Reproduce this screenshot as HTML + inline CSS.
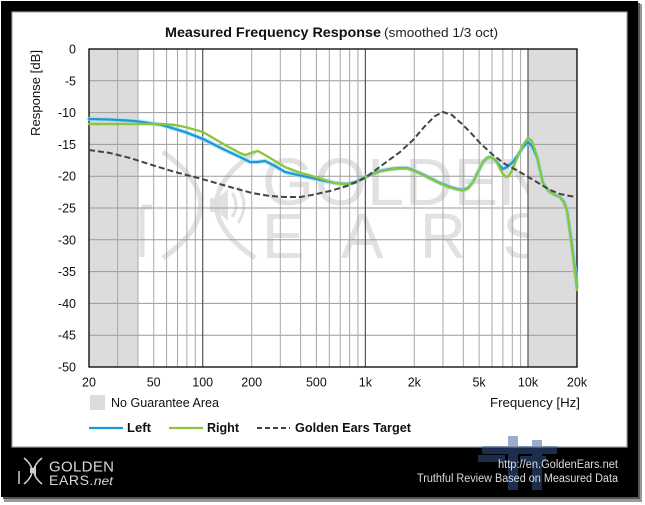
<!DOCTYPE html>
<html>
<head>
<meta charset="utf-8">
<style>
html,body{margin:0;padding:0;background:#fff;}
svg{display:block;}
</style>
</head>
<body>
<svg width="645" height="505" viewBox="0 0 645 505" xmlns="http://www.w3.org/2000/svg" font-family="'Liberation Sans', sans-serif">
  <!-- frame & shadow -->
  <rect x="4" y="4" width="638" height="498" fill="#9a9a9a"/>
  <rect x="3" y="3" width="637" height="496" fill="#555"/>
  <rect x="1" y="1" width="637" height="496" fill="#000"/>
  <rect x="12" y="12" width="615" height="435" fill="#fff" stroke="#a0a0a0" stroke-width="1.2"/>

  <!-- gray no-guarantee areas -->
  <rect x="89" y="49" width="49" height="318" fill="#dcdcdc"/>
  <rect x="528" y="49" width="49" height="318" fill="#dcdcdc"/>

  <!-- watermark -->
  <g fill="#dcdcdc" opacity="0.85">
    <text x="262" y="205" font-size="67" textLength="285" lengthAdjust="spacing">GOLDEN</text>
    <text x="262" y="258" font-size="64" textLength="283" lengthAdjust="spacing">EARS</text>
  </g>
  <g fill="none" stroke="#dcdcdc" stroke-width="5" opacity="0.85">
    <path d="M142,207 V257"/>
    <path d="M142,207 H152"/>
    <path d="M163,152 Q238,205 163,258"/>
    <path d="M255,152 Q178,205 255,258"/>
    <path d="M232,193 Q240,205 232,217" stroke-width="3"/>
    <path d="M238,187 Q250,205 238,223" stroke-width="3"/>
  </g>
  <polygon points="210,198 218,198 228,189 228,221 218,212 210,212" fill="#dcdcdc" opacity="0.85"/>

  <!-- grid -->
  <g stroke="#9a9a9a" stroke-width="1">
    <line x1="89" y1="80.8" x2="577" y2="80.8"/>
    <line x1="89" y1="112.6" x2="577" y2="112.6"/>
    <line x1="89" y1="144.4" x2="577" y2="144.4"/>
    <line x1="89" y1="176.2" x2="577" y2="176.2"/>
    <line x1="89" y1="208" x2="577" y2="208"/>
    <line x1="89" y1="239.8" x2="577" y2="239.8"/>
    <line x1="89" y1="271.6" x2="577" y2="271.6"/>
    <line x1="89" y1="303.4" x2="577" y2="303.4"/>
    <line x1="89" y1="335.2" x2="577" y2="335.2"/>
  </g>
  <g stroke="#a8a8a8" stroke-width="1">
    <line x1="117.6" y1="49" x2="117.6" y2="367"/>
    <line x1="138" y1="49" x2="138" y2="367"/>
    <line x1="153.7" y1="49" x2="153.7" y2="367"/>
    <line x1="166.6" y1="49" x2="166.6" y2="367"/>
    <line x1="177.5" y1="49" x2="177.5" y2="367"/>
    <line x1="186.9" y1="49" x2="186.9" y2="367"/>
    <line x1="195.3" y1="49" x2="195.3" y2="367"/>
    <line x1="251.7" y1="49" x2="251.7" y2="367"/>
    <line x1="280.3" y1="49" x2="280.3" y2="367"/>
    <line x1="300.6" y1="49" x2="300.6" y2="367"/>
    <line x1="316.4" y1="49" x2="316.4" y2="367"/>
    <line x1="329.3" y1="49" x2="329.3" y2="367"/>
    <line x1="340.2" y1="49" x2="340.2" y2="367"/>
    <line x1="349.6" y1="49" x2="349.6" y2="367"/>
    <line x1="357.9" y1="49" x2="357.9" y2="367"/>
    <line x1="414.3" y1="49" x2="414.3" y2="367"/>
    <line x1="443" y1="49" x2="443" y2="367"/>
    <line x1="463.3" y1="49" x2="463.3" y2="367"/>
    <line x1="479.1" y1="49" x2="479.1" y2="367"/>
    <line x1="492" y1="49" x2="492" y2="367"/>
    <line x1="502.9" y1="49" x2="502.9" y2="367"/>
    <line x1="512.3" y1="49" x2="512.3" y2="367"/>
    <line x1="520.6" y1="49" x2="520.6" y2="367"/>
  </g>
  <g stroke="#555" stroke-width="1.2">
    <line x1="202.7" y1="49" x2="202.7" y2="367"/>
    <line x1="365.4" y1="49" x2="365.4" y2="367"/>
    <line x1="528" y1="49" x2="528" y2="367"/>
  </g>
  <rect x="89" y="49" width="488" height="318" fill="none" stroke="#000" stroke-width="1.3"/>

  <!-- curves -->
  <g fill="none" stroke-linejoin="round" stroke-linecap="round">
    <polyline stroke="#9fdcf4" stroke-width="4.5" opacity="0.7" points="89,119 110,119.5 135,121 162,125 185,132 203,139 225,150 240,157 250,162 257,162 265,161 275,166 285,172 298,175 312,178 325,181 335,183 347,184 356,182 363,178 372,174 380,171 390,169 400,168 407,168 413,170 422,174 430,178 440,183 450,187 457,189 463,190 468,188 473,182 478,172 483,162 487,158 490,157 494,159 497,162 500,166 503,169 507,167 513,162 518,155 523,147 528,142 532,146 537,157 540,170 543,183 547,189 550,192 555,195 560,197 564,202 567,210 572,245 577,287"/>
    <polyline stroke="#1c9ad6" stroke-width="2.3" points="89,119 110,119.5 135,121 162,125 185,132 203,139 225,150 240,157 250,162 257,162 265,161 275,166 285,172 298,175 312,178 325,181 335,183 347,184 356,182 363,178 372,174 380,171 390,169 400,168 407,168 413,170 422,174 430,178 440,183 450,187 457,189 463,190 468,188 473,182 478,172 483,162 487,158 490,157 494,159 497,162 500,166 503,169 507,167 513,162 518,155 523,147 528,142 532,146 537,157 540,170 543,183 547,189 550,192 555,195 560,197 564,202 567,210 572,245 577,287"/>
    <polyline stroke="#8cc63f" stroke-width="2.4" points="89,124 120,124 150,124 162,124 175,125 185,127 203,132 225,145 240,153 245,155 251,153 258,151 265,155 275,161 285,167 298,172 312,176 325,180 335,183 347,184.5 356,182.5 363,178.5 372,174.5 380,171.5 390,169.5 400,168.5 407,168.5 413,170.5 422,174.5 430,178.5 440,183.5 450,187.5 457,189.5 463,190.5 468,188.5 473,182 478,172 483,162 487,158 490,157 494,159 497,163 500,169 503,174 506,177 509,176 513,168 518,156 523,145 528,138 532,141 537,156 540,170 543,183 547,189 550,192 555,195 560,197 564,203 567,211 572,248 577,290"/>
    <polyline stroke="#444" stroke-width="2" stroke-dasharray="6 3" stroke-linecap="butt" points="89,150 110,153 130,158 152,165 175,172 202,179 230,187 252,193 270,196 285,197 300,197 312,195 330,191 347,186 365,178 385,163 400,152 413,140 425,126 435,116 443,112 452,115 462,124 470,132 480,143 493,155 505,164 518,171 530,178 540,184 550,190 560,194 570,196 577,197"/>
  </g>

  <!-- title -->
  <text x="165" y="37" font-size="14" font-weight="bold" fill="#111" textLength="216" lengthAdjust="spacingAndGlyphs">Measured Frequency Response</text>
  <text x="384" y="37" font-size="12.5" fill="#222" textLength="114" lengthAdjust="spacingAndGlyphs">(smoothed  1/3 oct)</text>

  <!-- y ticks -->
  <g font-size="12.5" fill="#111" text-anchor="end">
    <text x="76" y="53.5">0</text>
    <text x="76" y="85.3">-5</text>
    <text x="76" y="117.1">-10</text>
    <text x="76" y="148.9">-15</text>
    <text x="76" y="180.7">-20</text>
    <text x="76" y="212.5">-25</text>
    <text x="76" y="244.3">-30</text>
    <text x="76" y="276.1">-35</text>
    <text x="76" y="307.9">-40</text>
    <text x="76" y="339.7">-45</text>
    <text x="76" y="371.5">-50</text>
  </g>
  <text transform="translate(40,93) rotate(-90)" font-size="12.5" fill="#111" text-anchor="middle" textLength="86" lengthAdjust="spacingAndGlyphs">Response  [dB]</text>

  <!-- x ticks -->
  <g font-size="12.5" fill="#111" text-anchor="middle">
    <text x="89" y="386.5">20</text>
    <text x="153.7" y="386.5">50</text>
    <text x="202.7" y="386.5">100</text>
    <text x="251.7" y="386.5">200</text>
    <text x="316.4" y="386.5">500</text>
    <text x="365.4" y="386.5">1k</text>
    <text x="414.3" y="386.5">2k</text>
    <text x="479.1" y="386.5">5k</text>
    <text x="528" y="386.5">10k</text>
    <text x="577" y="386.5">20k</text>
  </g>
  <text x="490" y="407" font-size="12.5" fill="#111" textLength="90" lengthAdjust="spacingAndGlyphs">Frequency  [Hz]</text>

  <!-- legend -->
  <rect x="90" y="395" width="15" height="15" fill="#dcdcdc"/>
  <text x="111" y="407" font-size="12.5" fill="#111" textLength="108" lengthAdjust="spacingAndGlyphs">No Guarantee Area</text>
  <line x1="89" y1="428" x2="123" y2="428" stroke="#1c9ad6" stroke-width="2.3"/>
  <text x="127" y="432" font-size="13" font-weight="bold" fill="#111" textLength="24" lengthAdjust="spacingAndGlyphs">Left</text>
  <line x1="169" y1="428" x2="203" y2="428" stroke="#8cc63f" stroke-width="2.3"/>
  <text x="207" y="432" font-size="13" font-weight="bold" fill="#111" textLength="32" lengthAdjust="spacingAndGlyphs">Right</text>
  <line x1="257" y1="428" x2="290" y2="428" stroke="#444" stroke-width="2" stroke-dasharray="5 3"/>
  <text x="295" y="432" font-size="13" font-weight="bold" fill="#111" textLength="116" lengthAdjust="spacingAndGlyphs">Golden Ears Target</text>

  <!-- bottom logo -->
  <g fill="none" stroke="#cfcfcf" stroke-width="1.5">
    <path d="M19,471 V484"/>
    <path d="M24,458 Q40,471 24,484"/>
    <path d="M42,458 Q26,471 42,484"/>
  </g>
  <polygon points="30,468 33,468 36,465 36,476 33,473 30,473" fill="#cfcfcf"/>
  <text x="49" y="471.5" font-size="15" fill="#d8d8d8" textLength="65" lengthAdjust="spacing">GOLDEN</text>
  <text x="49" y="485" font-size="14" fill="#d8d8d8" textLength="40" lengthAdjust="spacing">EARS</text>
  <text x="90" y="485" font-size="12" font-style="italic" fill="#d8d8d8" textLength="23" lengthAdjust="spacingAndGlyphs">.net</text>

  <!-- site watermark (bottom right) -->
  <g fill="#3b5b9a" opacity="0.5">
    <rect x="508" y="436" width="10" height="54"/>
    <rect x="532" y="440" width="10" height="50"/>
    <rect x="482" y="446" width="75" height="8"/>
    <rect x="478" y="455" width="27" height="7"/>
    <rect x="520" y="456" width="26" height="6"/>
  </g>

  <!-- bottom right text -->
  <text x="618" y="468" font-size="11.5" fill="#dcdcdc" text-anchor="end" textLength="120" lengthAdjust="spacingAndGlyphs">http://en.GoldenEars.net</text>
  <text x="417" y="482" font-size="11.5" fill="#dcdcdc" textLength="201" lengthAdjust="spacingAndGlyphs">Truthful Review Based on Measured Data</text>
</svg>
</body>
</html>
